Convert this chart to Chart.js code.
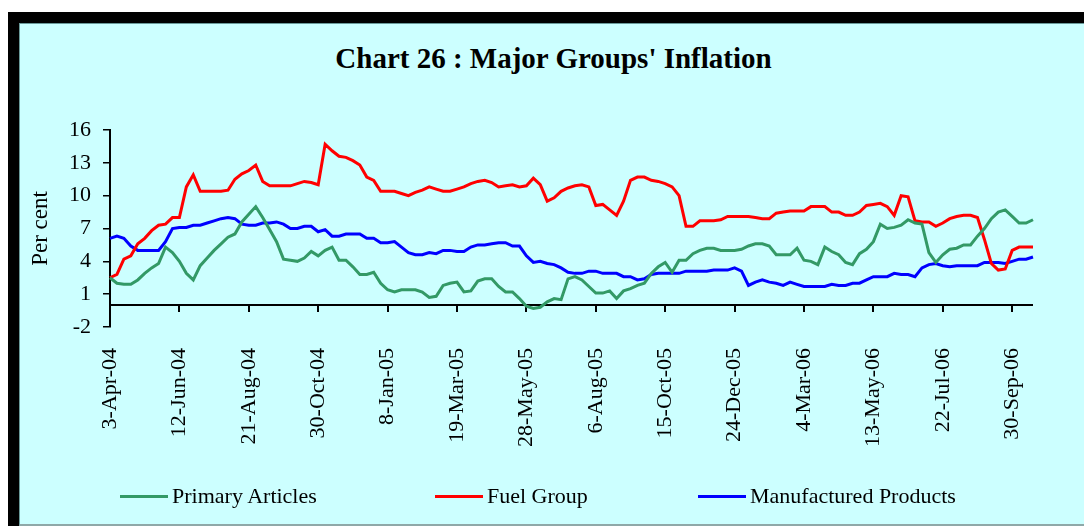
<!DOCTYPE html>
<html>
<head>
<meta charset="utf-8">
<title>Chart 26 : Major Groups' Inflation</title>
<script src="https://cdn.jsdelivr.net/npm/chart.js@4.4.1/dist/chart.umd.min.js"></script>
<style>
  html, body { margin: 0; padding: 0; background: #fff; }
  body { width: 1084px; height: 526px; position: relative; overflow: hidden; font-family: "Liberation Serif", serif; }
  #frame {
    position: absolute; left: 8px; top: 12px; right: 0; bottom: 0;
    border-left: 11px solid #000; border-top: 11px solid #000;
  }
  #panel {
    position: absolute; left: 0; top: 0; right: 0; bottom: 0;
    background: #ccffff;
    border-left: 1px solid #6a9a9a; border-top: 1px solid #6a9a9a;
    border-bottom: 2px solid #8fa8a8;
  }
  #chartTitle {
    position: absolute; left: 0; width: 1107px; top: 41px;
    text-align: center; font: bold 29px/34px "Liberation Serif", serif; color: #000;
  }
  #chart { position: absolute; left: 0; top: 0; }
  .legend-item { position: absolute; top: 484px; height: 24px; font: 22px/24px "Liberation Serif", serif; color: #000; white-space: nowrap; }
  .legend-item .swatch { position: absolute; left: 0; top: 11px; width: 48px; height: 3px; }
  .legend-item .label { position: absolute; left: 52px; top: 0; }
</style>
</head>
<body>
<div id="frame"><div id="panel"></div></div>
<div id="chartTitle">Chart 26 : Major Groups' Inflation</div>
<canvas id="chart" width="1084" height="526"></canvas>
<div id="legend"></div>

<script>
// ================================
// Weekly WPI inflation, 3-Apr-04 onwards (per cent)
// ================================
const startDate = Date.UTC(2004, 3, 3);
const months = ["Jan", "Feb", "Mar", "Apr", "May", "Jun", "Jul", "Aug", "Sep", "Oct", "Nov", "Dec"];

const primaryArticles = [
  2.5, 2.0, 1.9, 1.9, 2.3, 2.9, 3.4, 3.8, 5.3, 4.8, 4.0, 2.9, 2.3, 3.6, 4.3, 5.0, 5.6, 6.2, 6.5, 7.6, 8.3, 9.0, 8.0, 6.9, 5.8,
  4.2, 4.1, 4.0, 4.3, 4.9, 4.5, 5.0, 5.3, 4.1, 4.1, 3.5, 2.8, 2.8, 3.0, 2.0, 1.4, 1.2, 1.4, 1.4, 1.4, 1.2, 0.7, 0.8, 1.8, 2.0,
  2.1, 1.2, 1.3, 2.2, 2.4, 2.4, 1.7, 1.2, 1.2, 0.6,
  -0.1, -0.3, -0.2, 0.3, 0.6, 0.5, 2.4, 2.6, 2.3, 1.7, 1.1, 1.1, 1.3, 0.6, 1.3, 1.5, 1.8, 2.0, 2.9, 3.5, 3.9, 3.0, 4.1, 4.1,
  4.7, 5.0, 5.2, 5.2, 5.0, 5.0, 5.0, 5.1, 5.4, 5.6,
  5.6, 5.4, 4.6, 4.6, 4.6, 5.2, 4.1, 4.0, 3.7, 5.3, 4.9, 4.6, 3.9, 3.7, 4.7, 5.1, 5.8, 7.4, 7.0, 7.1, 7.3, 7.8, 7.5, 7.4,
  4.8, 3.9, 4.6, 5.1, 5.2, 5.5, 5.5, 6.3, 7.0, 7.9, 8.5, 8.7, 8.1, 7.5, 7.5, 7.8
];

const fuelGroup = [
  2.5, 2.8, 4.2, 4.5, 5.6, 6.1, 6.8, 7.3, 7.4, 8.0, 8.0, 10.8, 11.9, 10.4, 10.4, 10.4, 10.4, 10.5, 11.5, 12.0, 12.3, 12.8, 11.3, 10.9, 10.9,
  10.9, 10.9, 11.1, 11.3, 11.2, 11.0, 14.7, 14.1, 13.6, 13.5, 13.2, 12.8, 11.7, 11.4, 10.4, 10.4, 10.4, 10.2, 10.0, 10.3, 10.5,
  10.8, 10.6, 10.4, 10.4, 10.6, 10.8, 11.1, 11.3, 11.4, 11.2, 10.8, 10.9, 11.0, 10.8,
  10.9, 11.6, 11.0, 9.5, 9.8, 10.4, 10.7, 10.9, 11.0, 10.8, 9.1, 9.2, 8.7, 8.2, 9.5, 11.4, 11.7, 11.7, 11.4, 11.3, 11.1, 10.8,
  10.0, 7.2, 7.2, 7.7, 7.7, 7.7, 7.8, 8.1, 8.1, 8.1, 8.1, 8.0,
  7.9, 7.9, 8.4, 8.5, 8.6, 8.6, 8.6, 9.0, 9.0, 9.0, 8.5, 8.5, 8.2, 8.2, 8.5, 9.1, 9.2, 9.3, 9.0, 8.2, 10.0, 9.9, 7.7, 7.6,
  7.6, 7.2, 7.5, 7.9, 8.1, 8.2, 8.2, 8.0, 6.0, 3.8, 3.2, 3.3, 5.0, 5.3, 5.3, 5.3
];

const manufacturedProducts = [
  6.1, 6.3, 6.1, 5.4, 5.0, 5.0, 5.0, 5.0, 5.8, 7.0, 7.1, 7.1, 7.3, 7.3, 7.5, 7.7, 7.9, 8.0, 7.9, 7.4, 7.3, 7.3, 7.5, 7.5, 7.6,
  7.4, 7.0, 7.0, 7.2, 7.2, 6.7, 6.9, 6.3, 6.3, 6.5, 6.5, 6.5, 6.1, 6.1, 5.7, 5.7, 5.8, 5.3, 4.8, 4.6, 4.6, 4.8, 4.7, 5.0, 5.0,
  4.9, 4.9, 5.3, 5.5, 5.5, 5.6, 5.7, 5.7, 5.4, 5.4,
  4.5, 3.9, 4.0, 3.8, 3.7, 3.4, 3.0, 2.9, 2.9, 3.1, 3.1, 2.9, 2.9, 2.9, 2.6, 2.6, 2.3, 2.4, 2.8, 2.9, 2.9, 2.9, 2.9, 3.1,
  3.1, 3.1, 3.1, 3.2, 3.2, 3.2, 3.4, 3.1, 1.8, 2.1,
  2.3, 2.1, 2.0, 1.8, 2.1, 1.9, 1.7, 1.7, 1.7, 1.7, 1.9, 1.8, 1.8, 2.0, 2.0, 2.3, 2.6, 2.6, 2.6, 2.9, 2.8, 2.8, 2.6, 3.4,
  3.7, 3.8, 3.6, 3.5, 3.6, 3.6, 3.6, 3.6, 3.9, 3.9, 3.9, 3.8, 4.0, 4.2, 4.2, 4.4
];

const seriesNames = ["Primary Articles", "Fuel Group", "Manufactured Products"];
const seriesColors = ["#339966", "#ff0000", "#0000ff"];
const yTicks = [-2, 1, 4, 7, 10, 13, 16];

// Week ending dates, e.g. "3-Apr-04"
function weekLabel(i) {
  const d = new Date(startDate + i * 7 * 86400000);
  return d.getUTCDate() + "-" + months[d.getUTCMonth()] + "-" + String(d.getUTCFullYear()).slice(2);
}
const labels = primaryArticles.map((_, i) => weekLabel(i));

const serif = "'Liberation Serif', 'Times New Roman', serif";

// Excel-style category axis drawn along zero, with ticks every 10 weeks
const zeroAxis = {
  id: "zeroAxis",
  beforeDatasetsDraw(chart) {
    const { ctx, scales: { x, y } } = chart;
    const y0 = Math.round(y.getPixelForValue(0));
    ctx.save();
    ctx.strokeStyle = "#000";
    ctx.lineWidth = 2;
    ctx.beginPath();
    ctx.moveTo(x.left, y0);
    ctx.lineTo(x.right, y0);
    for (let i = 10; i < labels.length; i += 10) {
      const px = Math.round(x.getPixelForValue(i));
      ctx.moveTo(px, y0);
      ctx.lineTo(px, y0 + 7);
    }
    ctx.stroke();
    ctx.restore();
  }
};

new Chart(document.getElementById("chart"), {
  type: "line",
  data: {
    labels,
    datasets: [primaryArticles, fuelGroup, manufacturedProducts].map((data, k) => ({
      label: seriesNames[k],
      data,
      borderColor: seriesColors[k],
      backgroundColor: seriesColors[k],
      borderWidth: 3,
      pointRadius: 0,
      tension: 0,
      fill: false
    }))
  },
  options: {
    responsive: false,
    animation: false,
    layout: { padding: { left: 0, right: 51, top: 130, bottom: 0 } },
    plugins: {
      legend: { display: false },
      title: { display: false },
      tooltip: { enabled: false }
    },
    scales: {
      x: {
        offset: false,
        grid: { display: false },
        border: { display: false },
        ticks: {
          autoSkip: false,
          minRotation: 90,
          maxRotation: 90,
          padding: 13,
          color: "#000",
          font: { family: serif, size: 22 },
          callback(value, index) {
            return index % 10 === 0 ? this.getLabelForValue(value) : null;
          }
        },
        afterFit(scale) { scale.height = 199; }
      },
      y: {
        min: -2,
        max: 16,
        afterBuildTicks(scale) { scale.ticks = yTicks.map(v => ({ value: v })); },
        grid: { drawOnChartArea: false, drawTicks: true, tickLength: 7, color: "#000", lineWidth: 1.5 },
        border: { color: "#000", width: 2 },
        ticks: { padding: 12, color: "#000", font: { family: serif, size: 22 } },
        title: { display: true, text: "Per cent", color: "#000", padding: { top: 27 }, font: { family: serif, size: 23 } },
        afterFit(scale) { scale.width = 110; }
      }
    }
  },
  plugins: [zeroAxis]
});

// Legend, laid out the way the original sheet spaced it
const legendLeft = [120, 435, 698];
const legend = document.getElementById("legend");
seriesNames.forEach((name, k) => {
  const item = document.createElement("div");
  item.className = "legend-item";
  item.style.left = legendLeft[k] + "px";
  item.innerHTML = `<span class="swatch" style="background:${seriesColors[k]}"></span><span class="label">${name}</span>`;
  legend.appendChild(item);
});
</script>
</body>
</html>
